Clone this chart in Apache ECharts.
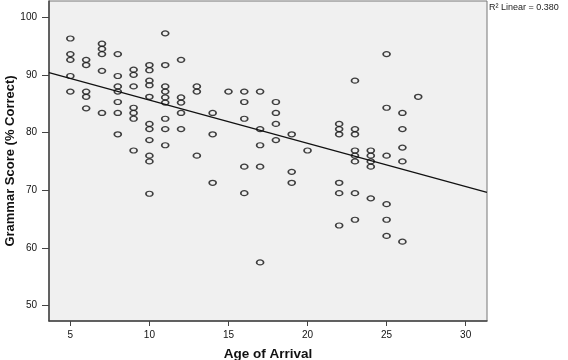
<!DOCTYPE html>
<html>
<head>
<meta charset="utf-8">
<script src="https://cdn.jsdelivr.net/npm/echarts@6/dist/echarts.min.js"></script>
<style>
html,body{margin:0;padding:0;background:#fff;}
#chart{width:568px;height:360px;}
</style>
</head>
<body>
<div id="chart"></div>
<script>
// Data
var ages = [5, 6, 7, 8, 9, 10, 11, 12, 13, 14, 15, 16, 17, 18, 19, 20, 22, 23, 24, 25, 26, 27];
var scoresByAge = [
  [96.3, 93.6, 92.6, 89.8, 87.1],
  [92.6, 91.7, 87.1, 86.2, 84.2],
  [95.4, 94.5, 93.6, 90.7, 83.4],
  [93.6, 89.8, 88.0, 87.1, 85.3, 83.4, 79.7],
  [90.9, 90.0, 88.0, 84.3, 83.4, 82.4, 76.9],
  [91.7, 90.8, 89.0, 88.2, 86.2, 81.5, 80.6, 78.7, 76.0, 75.0, 69.4],
  [97.2, 91.7, 88.0, 87.1, 86.1, 85.2, 82.4, 80.6, 77.8],
  [92.6, 86.1, 85.2, 83.4, 80.6],
  [88.0, 87.1, 76.0],
  [83.4, 79.7, 71.3],
  [87.1],
  [87.1, 85.3, 82.4, 74.1, 69.5],
  [87.1, 80.6, 77.8, 74.1, 57.5],
  [85.3, 83.4, 81.5, 78.7],
  [79.7, 73.2, 71.3],
  [76.9],
  [81.5, 80.6, 79.7, 71.3, 69.5, 63.9],
  [89.0, 80.6, 79.7, 76.9, 76.0, 75.0, 69.5, 64.9],
  [76.9, 76.0, 75.0, 74.1, 68.6],
  [93.6, 84.3, 76.0, 67.6, 64.9, 62.1],
  [83.4, 80.6, 77.4, 75.0, 61.1],
  [86.2]
];
var xTicks = [5, 10, 15, 20, 25, 30];
var yTicks = [50, 60, 70, 80, 90, 100];
var fitIntercept = 93.13;
var fitSlope = -0.749;
var r2Label = 'R\u00B2 Linear = 0.380';

var xMin = 3.65, xMax = 31.35, yMin = 47.35, yMax = 102.8;

var points = [];
ages.forEach(function (a, i) {
  scoresByAge[i].forEach(function (s) { points.push([a, s]); });
});
var fitLine = [[xMin, fitIntercept + fitSlope * xMin], [xMax, fitIntercept + fitSlope * xMax]];

var chart = echarts.init(document.getElementById('chart'), null, {renderer: 'canvas'});
var labelFont = {color: '#111', fontSize: 10, fontFamily: 'Liberation Sans, Arial, sans-serif'};
chart.setOption({
  animation: false,
  backgroundColor: '#fff',
  grid: {left: 49, right: 81, top: 1, bottom: 39, outerBoundsMode: 'none', containLabel: false,
         show: true, backgroundColor: '#f0f0f0', borderColor: '#777', borderWidth: 1},
  xAxis: {
    type: 'value', min: xMin, max: xMax,
    name: 'Age of Arrival', nameLocation: 'middle', nameGap: 26, nameMoveOverlap: false,
    nameTextStyle: {fontSize: 13.5, fontWeight: 'bold', color: '#111', fontFamily: 'Liberation Sans, Arial, sans-serif'},
    axisLine: {show: true, lineStyle: {color: '#444', width: 1.5}},
    axisTick: {show: true, length: 5, customValues: xTicks, lineStyle: {color: '#444'}},
    axisLabel: Object.assign({customValues: xTicks, margin: 9}, labelFont),
    splitLine: {show: false}
  },
  yAxis: {
    type: 'value', min: yMin, max: yMax,
    name: 'Grammar Score (% Correct)', nameLocation: 'middle', nameGap: 32, nameMoveOverlap: false,
    nameTextStyle: {fontSize: 13, fontWeight: 'bold', color: '#111', fontFamily: 'Liberation Sans, Arial, sans-serif'},
    axisLine: {show: true, lineStyle: {color: '#444', width: 1.5}},
    axisTick: {show: true, length: 7, customValues: yTicks, lineStyle: {color: '#444'}},
    axisLabel: Object.assign({customValues: yTicks, margin: 12}, labelFont),
    splitLine: {show: false}
  },
  graphic: [{
    type: 'text', left: 489, top: 3,
    style: {text: r2Label, fontSize: 9, fill: '#222', fontFamily: 'Liberation Sans, Arial, sans-serif'}
  }],
  series: [
    {
      type: 'line', data: fitLine, symbol: 'none', silent: true,
      lineStyle: {color: '#111', width: 1.2}, z: 2
    },
    {
      type: 'scatter', data: points, symbol: 'circle', symbolSize: [7, 5],
      itemStyle: {color: 'rgba(0,0,0,0)', borderColor: '#111', borderWidth: 1.4}, z: 3
    }
  ]
});
</script>
</body>
</html>
